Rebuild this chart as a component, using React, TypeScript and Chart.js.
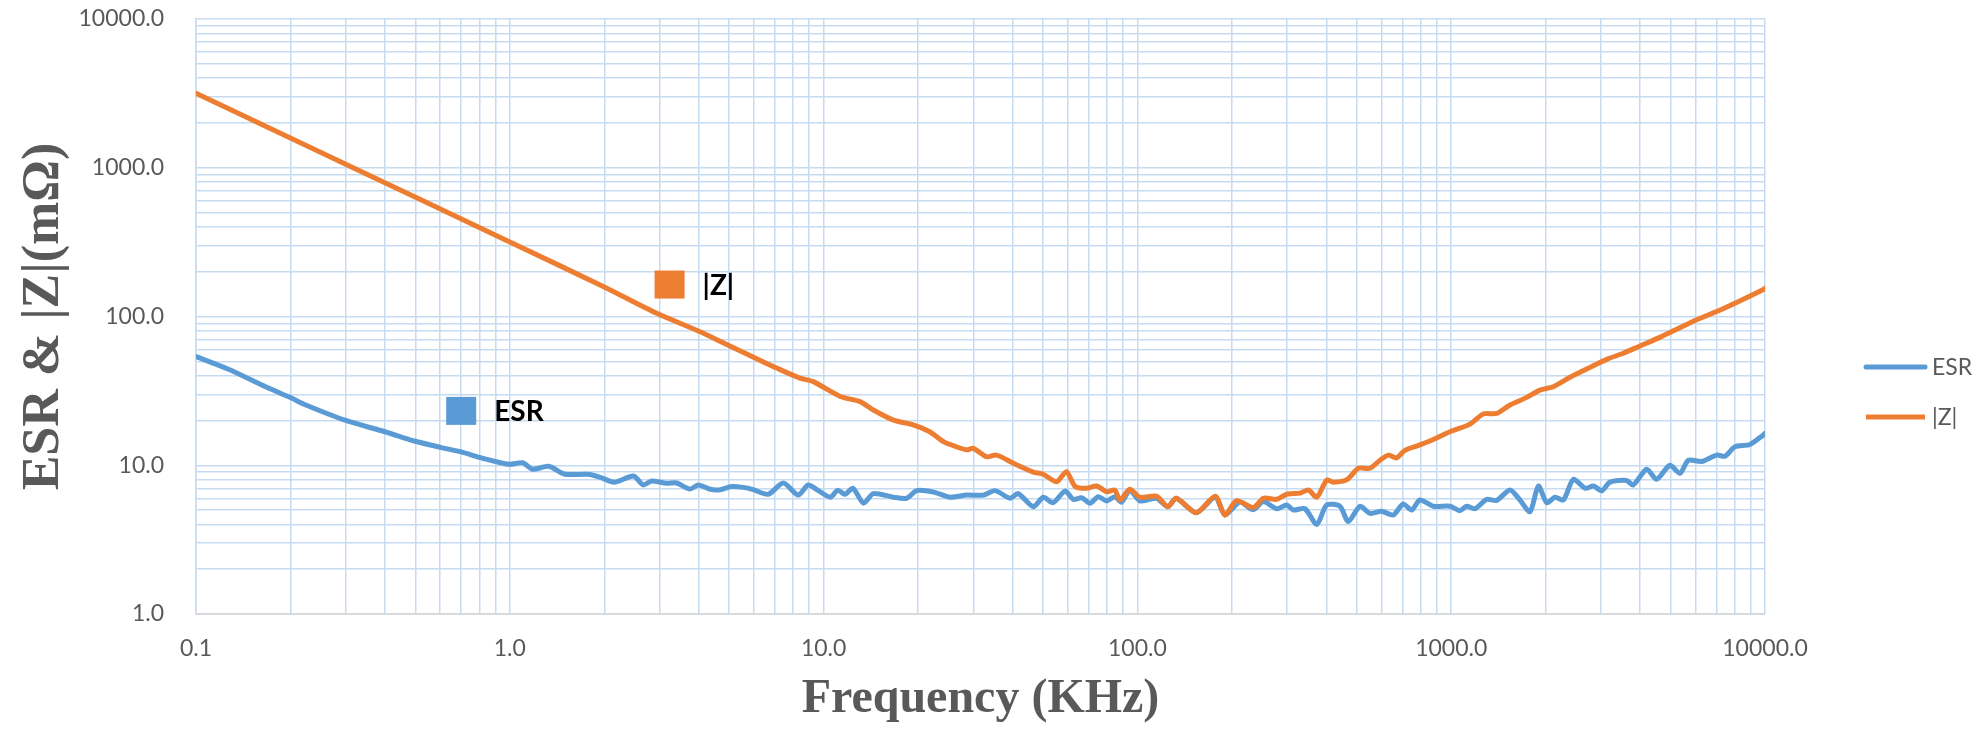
import React, { useEffect, useRef } from 'react';
import { Chart, registerables } from 'chart.js';

Chart.register(...registerables);

// ---- Data (frequency in KHz, impedance in mΩ) ----
const ESR_FREQ_KHZ = [
  0.1, 0.127, 0.168, 0.2, 0.223, 0.3, 0.4, 0.5, 0.6, 0.7, 0.8, 0.9, 1.0, 1.1, 1.18, 1.33, 1.5, 1.78, 1.94,
  2.16, 2.48, 2.66, 2.83, 3.16, 3.4, 3.75, 3.99, 4.35, 4.68, 5.09, 5.55, 5.97, 6.66, 7.44, 8.3, 8.93, 9.62,
  10.5, 11.1, 11.7, 12.4, 13.4, 14.4, 16.7, 18.4, 19.8, 22.4, 25.3, 28.6, 32.3, 35.2, 39.3, 41.7, 46.6, 50.1,
  53.9, 58.8, 62.5, 66.4, 70.6, 75, 79.8, 84.7, 89.1, 94.6, 101.9, 115, 125, 133, 154, 177, 190, 212, 234,
  252, 278, 299, 314, 342, 373, 401, 442, 470, 512, 551, 600, 654, 703, 748, 795, 877, 991, 1066, 1120, 1191,
  1297, 1395, 1539, 1656, 1783, 1896, 2016, 2144, 2279, 2450, 2673, 2838, 3020, 3206, 3622, 3802, 4198, 4515,
  4977, 5355, 5700, 6280, 7015, 7460, 8020, 8955, 9880, 10000,
];
const ESR_MOHM = [
  53.8, 44.2, 33.4, 28.5, 25.5, 20, 16.8, 14.5, 13.2, 12.3, 11.3, 10.6, 10.15, 10.4, 9.4, 9.85, 8.7, 8.7, 8.3,
  7.7, 8.47, 7.37, 7.84, 7.56, 7.6, 6.92, 7.37, 6.9, 6.85, 7.2, 7.1, 6.85, 6.38, 7.6, 6.3, 7.37, 6.75,
  6.1, 6.8, 6.38, 7.0, 5.56, 6.45, 6.1, 6.0, 6.75, 6.6, 6.1, 6.3, 6.3, 6.75, 6.0, 6.45, 5.26, 6.1,
  5.6, 6.7, 5.9, 6.05, 5.55, 6.15, 5.75, 6.15, 5.65, 6.8, 5.75, 6.0, 5.26, 6.0, 4.8, 6.1, 4.63, 5.65, 5.02,
  5.7, 5.1, 5.4, 5.0, 5.1, 4.0, 5.4, 5.3, 4.18, 5.3, 4.75, 4.9, 4.63, 5.5, 5.0, 5.84, 5.3, 5.3, 4.95, 5.3, 5.1,
  5.9, 5.8, 6.82, 5.84, 4.87, 7.25, 5.6, 6.1, 5.84, 8.04, 7.0, 7.25, 6.74, 7.7, 7.9, 7.37, 9.4, 8.04,
  10.0, 8.83, 10.8, 10.6, 11.7, 11.5, 13.3, 13.8, 16.0, 16.4,
];

const Z_FREQ_KHZ = [
  0.1, 0.3, 1, 2, 2.94, 4.04, 4.97, 6.12, 7.09, 8.41, 9.27, 11.3, 13.06, 14.4, 16.7, 19.3, 21.8, 24.1, 26.5,
  28.6, 30, 33.1, 35.6, 40.3, 46.6, 50.1, 55.3, 59.4, 63.3, 68.9, 74.1, 79.8, 84.7, 88, 94.6, 101.9, 115, 125,
  133, 154, 177, 190, 207, 234, 252, 278, 299, 330, 351, 373, 401, 421, 465, 506, 551, 593, 631, 670, 712, 795,
  877, 991, 1148, 1265, 1395, 1539, 1741, 1919, 2115, 2391, 2770, 3130, 3535, 3996, 4625, 5233, 6209, 7195,
  8337, 9880, 10000,
];
const Z_MOHM = [
  3170, 1057, 317, 158, 105, 79, 64, 52, 45, 38.5, 36.5, 29, 26.8, 23.5, 20.1, 18.7, 16.8, 14.4, 13.3,
  12.7, 13.0, 11.4, 11.7, 10.3, 9.0, 8.7, 7.75, 9.05, 7.2, 7.0, 7.25, 6.64, 6.8, 5.84, 6.9, 6.09, 6.2, 5.26,
  6.0, 4.8, 6.2, 4.63, 5.78, 5.2, 6.0, 5.9, 6.38, 6.5, 6.82, 6.09, 7.95, 7.7, 8.0, 9.55, 9.55, 10.8, 11.7, 11.2, 12.6, 13.7,
  14.9, 16.8, 18.9, 22.1, 22.3, 25.4, 28.6, 32, 33.7, 39, 45.5, 51.5, 56.6, 63.4, 72.4, 82, 97.2, 110.6,
  127.7, 152, 155,
];

const SERIES_NAMES = ['ESR', '|Z|'];
const X_DECADES = [0.1, 1, 10, 100, 1000, 10000];
const X_TICK_LABELS = ['0.1', '1.0', '10.0', '100.0', '1000.0', '10000.0'];
const Y_DECADES = [1, 10, 100, 1000, 10000];
const Y_TICK_LABELS = ['1.0', '10.0', '100.0', '1000.0', '10000.0'];
const X_TITLE = 'Frequency (KHz)';
const Y_TITLE = 'ESR & |Z|(mΩ)';
// in-plot labels anchored in data coordinates (KHz, mΩ)
const ANNOTATION_TEXT = ['ESR', '|Z|'];
const ANNOTATION_FREQ = [0.70, 3.23];
const ANNOTATION_VALUE = [23.2, 164];

// ---- Styles ----
const ESR_COLOR = '#5B9BD5';
const Z_COLOR = '#ED7D31';
const GRID_COLOR = '#c5dbf1';
const TEXT_GRAY = '#595959';
const SANS = 'Lato, "Open Sans", sans-serif';
const SERIF = '"Liberation Serif", "Times New Roman", serif';

function buildGrid(decades: number[]) {
  const out: number[] = [];
  for (let i = 0; i < decades.length - 1; i++) {
    for (let m = 1; m <= 9; m++) out.push(m === 1 ? decades[i] : decades[i] * m);
  }
  out.push(decades[decades.length - 1]);
  return out;
}

function labelFor(decades: number[], labels: string[]) {
  return (value: number) => {
    const i = decades.indexOf(value);
    return i >= 0 ? labels[i] : '';
  };
}

const overlayPlugin = {
  id: 'overlay',
  beforeDatasetsDraw(chart: any) {
    const { ctx, chartArea } = chart;
    ctx.save();
    ctx.strokeStyle = '#d9d9d9';
    ctx.lineWidth = 2;
    ctx.beginPath();
    ctx.moveTo(chartArea.left, chartArea.bottom);
    ctx.lineTo(chartArea.right, chartArea.bottom);
    ctx.stroke();
    ctx.restore();
  },
  afterDraw(chart: any) {
    const { ctx, chartArea, scales } = chart;
    const colors = [ESR_COLOR, Z_COLOR];
    ctx.save();
    // right-side legend
    ctx.font = `23px ${SANS}`;
    ctx.textBaseline = 'middle';
    ctx.textAlign = 'left';
    SERIES_NAMES.forEach((name, i) => {
      const y = 367 + i * 50;
      const x0 = chartArea.right + 101;
      ctx.strokeStyle = colors[i];
      ctx.lineWidth = 5;
      ctx.lineCap = i === 0 ? 'round' : 'butt';
      ctx.beginPath();
      ctx.moveTo(x0, y);
      ctx.lineTo(x0 + 59, y);
      ctx.stroke();
      ctx.fillStyle = TEXT_GRAY;
      ctx.fillText(name, x0 + 66, y + 1);
    });
    // in-plot labels
    ctx.font = `bold 28px ${SANS}`;
    ANNOTATION_TEXT.forEach((text, i) => {
      const cx = scales.x.getPixelForValue(ANNOTATION_FREQ[i]);
      const cy = scales.y.getPixelForValue(ANNOTATION_VALUE[i]);
      const s = 30;
      ctx.fillStyle = colors[i];
      ctx.fillRect(cx - s / 2, cy - s / 2 + 1, s, s - 2);
      ctx.fillStyle = '#000000';
      ctx.fillText(text, cx + s / 2 + 18, cy + 1);
    });
    ctx.restore();
  },
};

export default function App() {
  const ref = useRef<HTMLCanvasElement | null>(null);

  useEffect(() => {
    if (!ref.current) return;
    const xGrid = buildGrid(X_DECADES);
    const yGrid = buildGrid(Y_DECADES);
    const chart = new Chart(ref.current, {
      type: 'line',
      data: {
        datasets: [
          {
            label: SERIES_NAMES[0],
            data: ESR_FREQ_KHZ.map((f, i) => ({ x: f, y: ESR_MOHM[i] })),
            borderColor: ESR_COLOR,
            backgroundColor: ESR_COLOR,
            borderWidth: 5,
            pointRadius: 0,
            tension: 0.25,
            borderCapStyle: 'round',
            borderJoinStyle: 'round',
            order: 2,
          },
          {
            label: SERIES_NAMES[1],
            data: Z_FREQ_KHZ.map((f, i) => ({ x: f, y: Z_MOHM[i] })),
            borderColor: Z_COLOR,
            backgroundColor: Z_COLOR,
            borderWidth: 5,
            pointRadius: 0,
            tension: 0.25,
            borderCapStyle: 'round',
            borderJoinStyle: 'round',
            order: 1,
          },
        ],
      },
      options: {
        responsive: false,
        animation: false,
        devicePixelRatio: 1,
        layout: { padding: { left: 0, top: 19, right: 218, bottom: 0 } },
        plugins: { legend: { display: false }, tooltip: { enabled: false } },
        scales: {
          x: {
            type: 'logarithmic',
            min: 0.1,
            max: 10000,
            afterBuildTicks: (scale: any) => {
              scale.ticks = xGrid.map((v) => ({ value: v }));
            },
            afterFit: (scale: any) => {
              scale.height = 115;
              scale.paddingLeft = 0;
              scale.paddingRight = 0;
            },
            grid: { color: GRID_COLOR, lineWidth: 1.5, drawTicks: false },
            border: { display: false },
            ticks: {
              autoSkip: false,
              maxRotation: 0,
              minRotation: 0,
              padding: 21,
              color: TEXT_GRAY,
              font: { family: SANS, size: 23 },
              callback: labelFor(X_DECADES, X_TICK_LABELS) as any,
            },
            title: {
              display: true,
              text: X_TITLE,
              color: TEXT_GRAY,
              font: { family: SERIF, size: 48, weight: 'bold' },
              padding: { top: 0, bottom: 1 },
            },
          },
          y: {
            type: 'logarithmic',
            min: 1,
            max: 10000,
            afterBuildTicks: (scale: any) => {
              scale.ticks = yGrid.map((v) => ({ value: v }));
            },
            afterFit: (scale: any) => {
              scale.width = 196;
              scale.paddingTop = 0;
              scale.paddingBottom = 0;
            },
            grid: { color: GRID_COLOR, lineWidth: 1.5, drawTicks: false },
            border: { display: true, color: GRID_COLOR, width: 1.5 },
            ticks: {
              autoSkip: false,
              padding: 32,
              color: TEXT_GRAY,
              font: { family: SANS, size: 23 },
              callback: labelFor(Y_DECADES, Y_TICK_LABELS) as any,
            },
            title: {
              display: true,
              text: Y_TITLE,
              color: TEXT_GRAY,
              font: { family: SERIF, size: 52, weight: 'bold' },
              padding: { top: 13, bottom: 0 },
            },
          },
        },
      },
      plugins: [overlayPlugin],
    });
    return () => chart.destroy();
  }, []);

  return (
    <div style={{ position: 'fixed', left: 0, top: 0, width: 1983, height: 729, background: '#ffffff' }}>
      <canvas ref={ref} width={1983} height={729} style={{ display: 'block' }} />
    </div>
  );
}
